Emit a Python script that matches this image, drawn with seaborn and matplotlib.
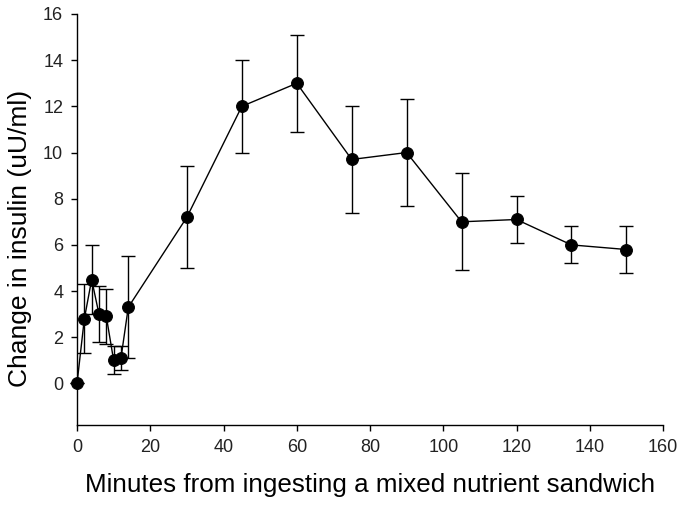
import numpy as np
import pandas as pd
import seaborn as sns
import matplotlib.pyplot as plt

minutes = [0, 2, 4, 6, 8, 10, 12, 14, 30, 45, 60, 75, 90, 105, 120, 135, 150]
insulin = [0.0, 2.8, 4.5, 3.0, 2.9, 1.0, 1.1, 3.3, 7.2, 12.0, 13.0, 9.7, 10.0, 7.0, 7.1, 6.0, 5.8]
err = [0.0, 1.5, 1.5, 1.2, 1.2, 0.6, 0.5, 2.2, 2.2, 2.0, 2.1, 2.3, 2.3, 2.1, 1.0, 0.8, 1.0]

df = pd.DataFrame({'minutes': minutes, 'insulin': insulin, 'err': err})

sns.set_style("ticks")
plt.rcParams['font.family'] = ['Liberation Sans', 'DejaVu Sans']

fig = plt.figure(figsize=(6.84, 5.05), dpi=100)
ax = fig.add_axes([0.1126, 0.1584, 0.8567, 0.8139])

ax.errorbar(df['minutes'], df['insulin'], yerr=df['err'], fmt='none',
            ecolor='black', elinewidth=1.0, capsize=5, capthick=1.0, zorder=2)
sns.lineplot(data=df, x='minutes', y='insulin', color='black', linewidth=1.0,
             marker='o', markersize=8.5, markeredgecolor='black',
             markerfacecolor='black', ax=ax, zorder=3)
# let the first marker sit on top of the axis line
for ln in ax.lines:
    ln.set_clip_on(False)

ax.set_xlim(0, 160)
ax.set_ylim(-1.8, 16)
ax.set_xticks(range(0, 161, 20))
ax.set_yticks(range(0, 17, 2))
ax.tick_params(direction='out', length=4, width=1, labelsize=13, colors='black',
               labelcolor='#222222')
ax.tick_params(axis='x', pad=6)
ax.tick_params(axis='y', pad=6)
for s in ['left', 'bottom']:
    ax.spines[s].set_linewidth(1.0)
    ax.spines[s].set_color('black')
sns.despine(ax=ax)

ax.set_xlabel('Minutes from ingesting a mixed nutrient sandwich', fontsize=18.7,
              color='black', labelpad=12)
ax.set_ylabel('Change in insulin (uU/ml)', fontsize=19, color='black')
ax.yaxis.set_label_coords(-0.077, 0.455)

fig.savefig('out.png', dpi=100)
